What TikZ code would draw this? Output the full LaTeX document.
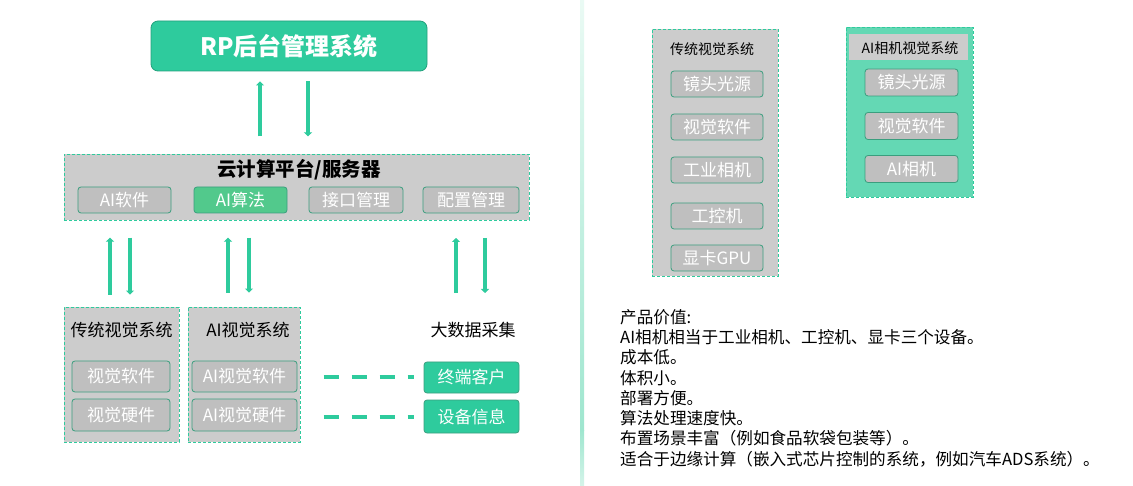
\documentclass[tikz,border=0pt]{standalone}
\usepackage{fontspec}
\setmainfont{Noto Sans CJK SC}
\usetikzlibrary{arrows.meta}
\definecolor{mgreen}{HTML}{2ECB9D}
\definecolor{dgreen}{HTML}{23A07C}
\definecolor{sborder}{HTML}{3A9E7E}
\definecolor{bgrey}{HTML}{CCCCCC}
\definecolor{sgrey}{HTML}{BFBFBF}
\definecolor{algreen}{HTML}{52C98C}
\definecolor{camgreen}{HTML}{64D8B4}
\definecolor{divtop}{HTML}{EAFAF4}
\definecolor{divbot}{HTML}{9FE6CF}
\tikzset{
  bigbox/.style={draw=mgreen, dash pattern=on 3pt off 2pt, line width=0.8pt, fill=bgrey, inner sep=0pt},
  subbox/.style={draw=sborder, fill=sgrey, rounded corners=3pt, line width=0.8pt, text=white, inner sep=0pt, font=\fontsize{17}{17}\selectfont},
  greenbox/.style={subbox, fill=mgreen},
  ttl/.style={inner sep=0pt, text=black, font=\fontsize{17}{17}\selectfont},
  sttl/.style={inner sep=0pt, text=black, font=\fontsize{14}{14}\selectfont},
  arr/.style={draw=mgreen, line width=4pt, -{Triangle[width=8pt,length=4pt]}},
  dline/.style={draw=mgreen, line width=4pt, dash pattern=on 15pt off 13pt},
}
\begin{document}
\begin{tikzpicture}[x=1pt,y=-1pt]
\useasboundingbox (0,0) rectangle (1133,486);
% divider
\shade[top color=divtop, bottom color=divbot] (580,0) rectangle (584,430);
\shade[top color=divbot, bottom color=divtop!70!divbot] (580,430) rectangle (584,485);

% RP
\node[draw=dgreen, fill=mgreen, rounded corners=7pt, line width=0.8pt, minimum width=276pt, minimum height=50pt, inner sep=0pt, text=white, font=\fontsize{24}{24}\selectfont\bfseries] (rp) at (289,46) {RP后台管理系统};

% cloud
\node[bigbox, minimum width=465pt, minimum height=66pt] (cloud) at (296.5,187) {};
\node[inner sep=0pt, font=\fontsize{19.5}{19.5}\selectfont\bfseries] (cloudt) at (299,170) {云计算平台/服务器};
\node[subbox, minimum width=93pt, minimum height=26pt] (s1) at (124.5,200) {AI软件};
\node[subbox, fill=algreen, minimum width=93pt, minimum height=26pt] (s2) at (240.5,200) {AI算法};
\node[subbox, minimum width=94pt, minimum height=26pt] (s3) at (356,200) {接口管理};
\node[subbox, minimum width=96pt, minimum height=26pt] (s4) at (471,200) {配置管理};

\draw[arr] ([xshift=-29pt,yshift=-65pt]rp.south) -- ([xshift=-29pt,yshift=-10pt]rp.south);
\draw[arr] ([xshift=19pt,yshift=-10pt]rp.south) -- ([xshift=19pt,yshift=-65pt]rp.south);

% lower left boxes
\node[bigbox, minimum width=115pt, minimum height=135pt] (trad) at (121.5,374.5) {};
\node[ttl] (tradt) at (121.5,330) {传统视觉系统};
\node[subbox, minimum width=98pt, minimum height=31pt] (v1) at (121,376.5) {视觉软件};
\node[subbox, minimum width=98pt, minimum height=32pt] (v2) at (121,415) {视觉硬件};

\node[bigbox, minimum width=112pt, minimum height=135pt] (aivis) at (244,374.5) {};
\node[ttl] (aivist) at (248,330) {AI视觉系统};
\node[subbox, minimum width=105pt, minimum height=31pt] (a1) at (244.5,376.5) {AI视觉软件};
\node[subbox, minimum width=105pt, minimum height=32pt] (a2) at (244.5,415) {AI视觉硬件};

\node[ttl] (bd) at (473,330) {大数据采集};
\node[greenbox, minimum width=95pt, minimum height=31pt] (term) at (471.5,377.5) {终端客户};
\node[greenbox, minimum width=95pt, minimum height=33pt] (dev) at (471.5,416.5) {设备信息};

\draw[arr] ([xshift=-11.5pt,yshift=12pt]trad.north) -- ([xshift=-11.5pt,yshift=69pt]trad.north);
\draw[arr] ([xshift=8.5pt,yshift=69pt]trad.north) -- ([xshift=8.5pt,yshift=12pt]trad.north);
\draw[arr] ([xshift=-16pt,yshift=14pt]aivis.north) -- ([xshift=-16pt,yshift=69pt]aivis.north);
\draw[arr] ([xshift=5pt,yshift=69pt]aivis.north) -- ([xshift=5pt,yshift=14pt]aivis.north);
\draw[arr] ([xshift=-17pt,yshift=37pt]bd.center) -- ([xshift=-17pt,yshift=92pt]bd.center);
\draw[arr] ([xshift=12pt,yshift=92pt]bd.center) -- ([xshift=12pt,yshift=37pt]bd.center);

\draw[dline] ([xshift=-100pt]term.west) -- ([xshift=-10pt]term.west);
\draw[dline] ([xshift=-100pt]dev.west) -- ([xshift=-10pt]dev.west);

% right: traditional
\node[bigbox, minimum width=126pt, minimum height=247pt] (rtrad) at (715,152.5) {};
\node[sttl] (rtradt) at (712,49) {传统视觉系统};
\node[subbox, minimum width=92pt, minimum height=26pt] (r1) at (717,84) {镜头光源};
\node[subbox, minimum width=92pt, minimum height=26pt] (r2) at (717,127) {视觉软件};
\node[subbox, minimum width=92pt, minimum height=26pt] (r3) at (717,170) {工业相机};
\node[subbox, minimum width=92pt, minimum height=26pt] (r4) at (717,216) {工控机};
\node[subbox, minimum width=92pt, minimum height=26pt] (r5) at (717,258) {显卡GPU};

% right: AI camera
\node[bigbox, fill=camgreen, minimum width=127pt, minimum height=170pt] (rai) at (909.5,112) {};
\node[fill=bgrey, inner sep=0pt, minimum width=119pt, minimum height=26pt] (raib) at (908.5,47) {};
\node[sttl] (rait) at (910,48) {AI相机视觉系统};
\node[subbox, minimum width=93pt, minimum height=27pt] (q1) at (911.5,82.5) {镜头光源};
\node[subbox, minimum width=93pt, minimum height=27pt] (q2) at (911.5,126) {视觉软件};
\node[subbox, minimum width=93pt, minimum height=27pt] (q3) at (911.5,169) {AI相机};

% value text
\node[anchor=north west, inner sep=0pt, align=left, font=\fontsize{16.6}{20.3}\selectfont] (val) at (620,309) {产品价值:\\AI相机相当于工业相机、工控机、显卡三个设备。\\成本低。\\体积小。\\部署方便。\\算法处理速度快。\\布置场景丰富（例如食品软袋包装等）。\\适合于边缘计算（嵌入式芯片控制的系统，例如汽车ADS系统）。};
\end{tikzpicture}
\end{document}
